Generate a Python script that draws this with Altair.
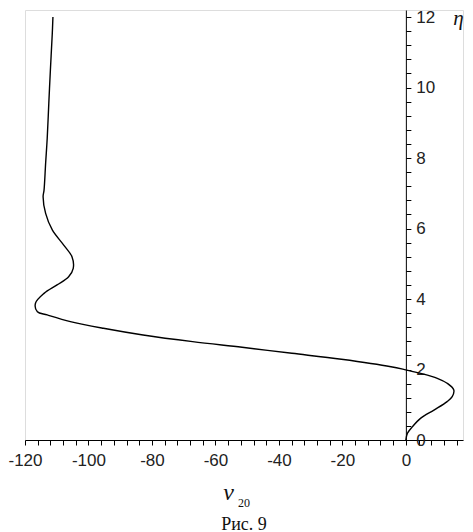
import altair as alt
import pandas as pd

# curve v20(eta), ordered from eta = 0 upward
v20 = [0.0, 0.5, 2.1, 4.7, 8.85, 13.0, 14.6, 15.1, 13.0, 9.9, 4.7, 0.0, -4.7,
       -20.3, -35.9, -51.6, -67.2, -82.8, -95.3, -105.7, -113.0, -116.1, -116.7,
       -114.0, -109.9, -106.25, -104.8, -105.2, -107.8, -111.4, -113.5, -114.3,
       -114.0, -113.5, -113.0, -112.5, -112.0, -111.4, -111.2]
eta = [0.0, 0.19, 0.38, 0.62, 0.85, 1.09, 1.23, 1.42, 1.61, 1.75, 1.89, 1.99, 2.08,
       2.29, 2.46, 2.63, 2.79, 2.98, 3.17, 3.36, 3.55, 3.64, 3.88,
       4.16, 4.4, 4.63, 4.87, 5.2, 5.53, 5.96, 6.43, 6.9,
       7.09, 7.85, 8.56, 9.55, 10.5, 11.54, 12.0]

x_ticks = list(range(-120, 17, 4))
y_ticks = [round(i * 0.4, 1) for i in range(31)]

df = pd.DataFrame({"v": v20, "eta": eta, "i": list(range(len(v20)))})
sub_df = pd.DataFrame({"t": ["20"]})

LABEL_FONT = "Liberation Sans Narrow, Liberation Sans"
SERIF = "Liberation Serif"

W, H = 438, 430
XMIN, XMAX = -120, 18
x0 = W * (0 - XMIN) / (XMAX - XMIN)

curve = alt.Chart(df).mark_line(
    color="black", strokeWidth=1.4, interpolate="catmull-rom"
).encode(
    x=alt.X(
        "v:Q",
        scale=alt.Scale(domain=[XMIN, XMAX], nice=False, zero=False),
        axis=alt.Axis(
            values=x_ticks,
            labelExpr="datum.value % 20 == 0 ? '' + datum.value : ''",
            labelFlush=False, labelOverlap=False,
            tickSize=5, labelPadding=7,
            labelFont=LABEL_FONT, labelFontSize=17, labelColor="#222",
            domainColor="black", tickColor="black", grid=False,
            title="v", titleFont=SERIF, titleFontStyle="italic",
            titleFontSize=24, titleFontWeight="normal", titleColor="#111",
            titleX=203, titleY=59, titleAlign="center",
            titleBaseline="alphabetic", titleAnchor="start",
        ),
    ),
    y=alt.Y(
        "eta:Q",
        scale=alt.Scale(domain=[0, 12.2], nice=False, zero=False),
        axis=alt.Axis(
            orient="right", offset=x0 - W,
            values=y_ticks,
            labelExpr="abs(datum.value - round(datum.value / 2) * 2) < 0.01 ? '' + datum.value : ''",
            labelFlush=False, labelOverlap=False,
            tickSize=5, labelPadding=5, labelAlign="left", labelBaseline="middle",
            labelFont=LABEL_FONT, labelFontSize=17, labelColor="#222",
            domainColor="black", tickColor="black", grid=False,
            title="η", titleAngle=0, titleFont=SERIF, titleFontStyle="italic",
            titleFontSize=21, titleFontWeight="normal", titleColor="#111",
            titleX=52, titleY=14, titleAlign="center",
            titleBaseline="alphabetic", titleAnchor="start",
        ),
    ),
    order=alt.Order("i:Q"),
)

subscript = alt.Chart(sub_df).mark_text(
    align="left", baseline="alphabetic", font=SERIF, fontSize=12, color="#111"
).encode(x=alt.value(213), y=alt.value(497), text="t:N")

chart = alt.layer(curve, subscript).properties(
    width=W, height=H,
    title=alt.TitleParams(
        "Рис. 9", orient="bottom", anchor="middle", font=SERIF,
        fontSize=18, fontWeight="normal", color="#111", offset=7,
    ),
    autosize=alt.AutoSizeParams(type="none"),
    padding={"left": 17, "top": 2, "right": 2, "bottom": 92},
).configure_view(stroke=None).configure(background="white")

chart.save("out.html", embed_options={"renderer": "svg", "actions": False})
